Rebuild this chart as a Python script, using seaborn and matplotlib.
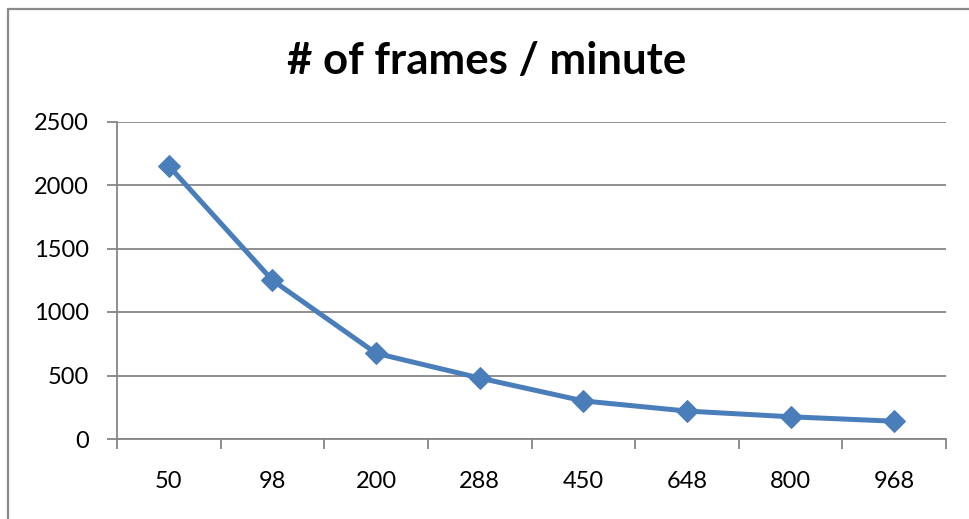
import matplotlib
matplotlib.use("Agg")
import matplotlib.pyplot as plt
import seaborn as sns
import pandas as pd
from matplotlib.lines import Line2D

categories = ["50", "98", "200", "288", "450", "648", "800", "968"]
frames_per_minute = [2150, 1250, 675, 480, 300, 220, 175, 140]
y_ticks = [0, 500, 1000, 1500, 2000, 2500]
title = "# of frames / minute"

df = pd.DataFrame({"size": categories, "fpm": frames_per_minute})

sns.set_theme(style="white")
plt.rcParams["font.family"] = ["Lato", "DejaVu Sans"]

fig = plt.figure(figsize=(9.69, 5.19), dpi=100)
ax = fig.add_axes([117/969, 1-439/519, (946-117)/969, (439-121.5)/519])

color = "#4A7EBB"
grid_c = "#868686"

sns.lineplot(data=df, x="size", y="fpm", ax=ax, color=color, linewidth=3.6,
             marker="D", markersize=11, markeredgecolor=color, sort=False)

ax.set_xlim(-0.5, len(categories) - 0.5)
ax.set_ylim(0, 2500)
ax.set_yticks(y_ticks)
ax.set_yticklabels([str(v) for v in y_ticks])
ax.yaxis.grid(True, color=grid_c, linewidth=1.3)
ax.set_axisbelow(True)

# category labels at centers (no tick lines), tick marks at boundaries
ax.set_xticks(range(len(categories)))
ax.set_xticklabels(categories)
ax.set_xticks([i - 0.5 for i in range(len(categories) + 1)], minor=True)
ax.tick_params(axis="x", which="major", length=0, pad=23, labelsize=17, colors="black")
ax.tick_params(axis="x", which="minor", length=7, width=1.3, color=grid_c, direction="out", bottom=True)
ax.tick_params(axis="y", which="major", length=7, width=1.3, color=grid_c, direction="out",
               left=True, pad=13.5, labelsize=17, labelcolor="black")

for s in ["top", "right"]:
    ax.spines[s].set_visible(False)
for s in ["left", "bottom"]:
    ax.spines[s].set_color(grid_c)
    ax.spines[s].set_linewidth(1.3)

ax.set_xlabel("")
ax.set_ylabel("")

fig.text(486.5/969, 1-74/519, title, ha="center", va="baseline", fontsize=31.5,
         fontweight="bold", color="black")

# chart frame (top and left edges visible)
fig.add_artist(Line2D([8/969, 1], [1-9/519, 1-9/519], transform=fig.transFigure, color="#8a8a8a", linewidth=1.6))
fig.add_artist(Line2D([8/969, 8/969], [0, 1-9/519], transform=fig.transFigure, color="#8a8a8a", linewidth=1.6))

fig.savefig("out.png", dpi=100, facecolor="white")
